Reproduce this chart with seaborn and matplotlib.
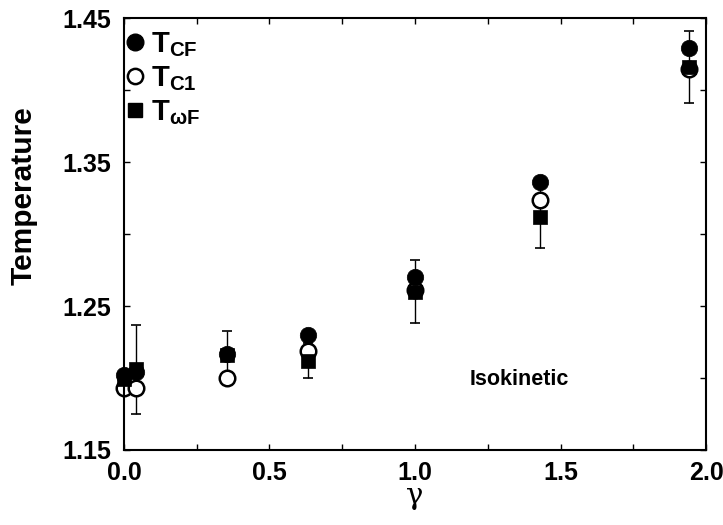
import matplotlib
matplotlib.use("Agg")
import matplotlib.pyplot as plt
import seaborn as sns
import pandas as pd
from matplotlib.ticker import MultipleLocator
from matplotlib.lines import Line2D

# ---- data ----
gamma_cf = [0.0, 0.04, 0.354, 0.632, 1.0, 1.43, 1.94]
t_cf = [1.202, 1.204, 1.217, 1.230, 1.270, 1.336, 1.429]

gamma_c1 = [0.0, 0.04, 0.354, 0.632, 1.0, 1.43, 1.94]
t_c1 = [1.193, 1.193, 1.200, 1.219, 1.261, 1.324, 1.415]

gamma_wf = [0.0, 0.04, 0.354, 0.632, 1.0, 1.43, 1.94]
t_wf = [1.199, 1.206, 1.216, 1.212, 1.260, 1.312, 1.416]
err_wf = [0.0, 0.031, 0.017, 0.012, 0.022, 0.022, 0.025]

labels = [r"$\mathbf{T_{CF}}$", r"$\mathbf{T_{C1}}$", r"$\mathbf{T_{\omega F}}$"]
xticks = [0.0, 0.5, 1.0, 1.5, 2.0]
yticks = [1.15, 1.25, 1.35, 1.45]

sns.set_theme(style="ticks")
plt.rcParams["font.family"] = ["Liberation Sans", "DejaVu Sans"]
plt.rcParams["mathtext.fontset"] = "custom"
plt.rcParams["mathtext.rm"] = "Liberation Sans:bold"
plt.rcParams["mathtext.bf"] = "Liberation Sans:bold"
plt.rcParams["mathtext.it"] = "Liberation Sans:bold"
for k in ["text.color", "axes.labelcolor", "xtick.color", "ytick.color", "axes.edgecolor"]:
    plt.rcParams[k] = "black"

fig = plt.figure(figsize=(7.23, 5.25), dpi=100)
ax = fig.add_axes([0.1715, 0.1429, 0.805, 0.8225])

df_wf = pd.DataFrame({"g": gamma_wf, "t": t_wf, "e": err_wf})
ax.errorbar(df_wf["g"], df_wf["t"], yerr=df_wf["e"], fmt="none",
            ecolor="black", elinewidth=1.0, capsize=3.5, capthick=1.2, zorder=1,
            clip_on=False)

df_cf = pd.DataFrame({"g": gamma_cf, "t": t_cf})
df_c1 = pd.DataFrame({"g": gamma_c1, "t": t_c1})

sns.scatterplot(data=df_c1, x="g", y="t", marker="o", s=125, facecolor="white",
                edgecolor="black", linewidth=1.8, ax=ax, zorder=2, clip_on=False)
sns.scatterplot(data=df_wf, x="g", y="t", marker="s", s=105, color="black",
                edgecolor="black", linewidth=0.5, ax=ax, zorder=3, clip_on=False)
sns.scatterplot(data=df_cf, x="g", y="t", marker="o", s=140, color="black",
                edgecolor="black", linewidth=0.5, ax=ax, zorder=4, clip_on=False)

handles = [
    Line2D([], [], marker="o", linestyle="none", markersize=12, markerfacecolor="black", markeredgecolor="black"),
    Line2D([], [], marker="o", linestyle="none", markersize=11, markerfacecolor="white", markeredgecolor="black", markeredgewidth=1.8),
    Line2D([], [], marker="s", linestyle="none", markersize=10, markerfacecolor="black", markeredgecolor="black"),
]
ax.legend(handles, labels, loc="upper left", bbox_to_anchor=(-0.007, 0.972), frameon=False,
          fontsize=21, handletextpad=0.05, borderaxespad=0.0, labelspacing=0.18,
          handlelength=1.0, borderpad=0.0)

ax.set_xlim(0.0, 2.0)
ax.set_ylim(1.15, 1.45)
ax.set_xticks(xticks)
ax.set_yticks(yticks)
ax.xaxis.set_minor_locator(MultipleLocator(0.25))
ax.yaxis.set_minor_locator(MultipleLocator(0.05))
ax.set_xticklabels([f"{v:.1f}" for v in xticks], fontsize=18, fontweight="bold")
ax.set_yticklabels([f"{v:.2f}" for v in yticks], fontsize=18, fontweight="bold")
ax.tick_params(which="both", direction="in", top=True, right=True, width=1.0)
ax.tick_params(axis="x", which="major", length=4, pad=8)
ax.tick_params(axis="y", which="major", length=4, pad=9)
ax.tick_params(which="minor", length=4)

ax.set_xlabel("γ", fontsize=21, family=["DejaVu Serif", "DejaVu Sans"])
ax.xaxis.set_label_coords(0.5, -0.075)
ax.set_ylabel("Temperature", fontsize=21.5, fontweight="bold")
ax.yaxis.set_label_coords(-0.148, 0.588)

for s in ax.spines.values():
    s.set_linewidth(1.5)
    s.set_color("black")

ax.text(1.36, 1.199, "Isokinetic", fontsize=15.5, fontweight="bold", ha="center", va="center")

fig.savefig("out.png", dpi=100)
